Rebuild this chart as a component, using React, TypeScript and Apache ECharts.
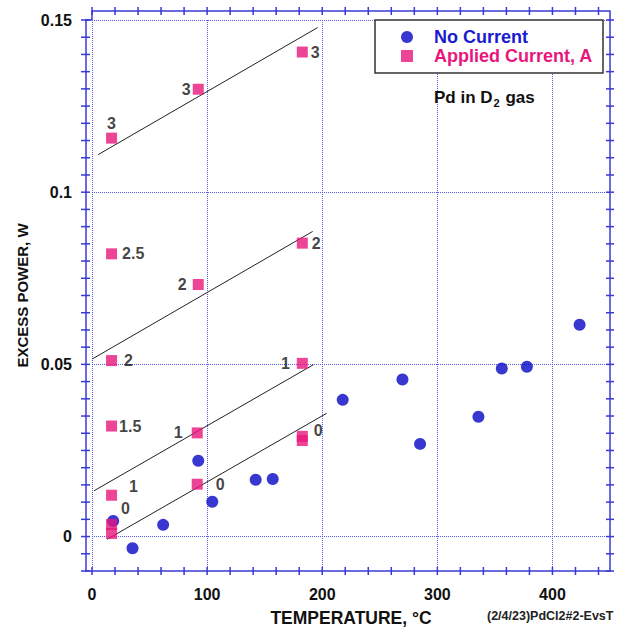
import React, { useEffect, useRef } from "react";
import * as echarts from "echarts";

// ---- data ----
const noCurrentTemp = [18.4, 35.2, 61.8, 92.3, 104.5, 142.2, 157, 217.8, 269.7, 285, 335.7, 356, 377.8, 423.6];
const noCurrentPower = [0.0045, -0.0034, 0.0034, 0.022, 0.0101, 0.0165, 0.0167, 0.0397, 0.0456, 0.0269, 0.0348, 0.0488, 0.0493, 0.0615];

const appliedTemp = [17, 92.3, 182.7, 17, 92.3, 182.7, 17, 17, 182.7, 91.4, 17, 91.4, 182.7, 182.7, 17, 17];
const appliedPower = [0.1157, 0.1299, 0.1407, 0.0821, 0.0732, 0.0852, 0.0511, 0.0321, 0.0503, 0.0301, 0.012, 0.0152, 0.0291, 0.0279, 0.0035, 0.0009];
const appliedCurrentLabels = ["3", "3", "3", "2.5", "2", "2", "2", "1.5", "1", "1", "1", "0", "0", "", "0", ""];

// fit lines: [startTemp, startPower, endTemp, endPower]
const fitLine3 = [5.3, 0.1109, 196, 0.1478];
const fitLine2 = [0.4, 0.0516, 191.7, 0.0886];
const fitLine1 = [1.8, 0.0133, 192.3, 0.0499];
const fitLine0 = [13.1, -0.0008, 203.9, 0.0358];
const fitLines = [fitLine3, fitLine2, fitLine1, fitLine0];

// axis ticks and labels
const xTickValues = [0, 20, 40, 60, 80, 100, 120, 140, 160, 180, 200, 220, 240, 260, 280, 300, 320, 340, 360, 380, 400, 420, 440];
const yTickValues = [
  -0.01, -0.005, 0, 0.005, 0.01, 0.015, 0.02, 0.025, 0.03, 0.035, 0.04, 0.045, 0.05, 0.055, 0.06, 0.065, 0.07,
  0.075, 0.08, 0.085, 0.09, 0.095, 0.1, 0.105, 0.11, 0.115, 0.12, 0.125, 0.13, 0.135, 0.14, 0.145, 0.15,
];
const xTickLabels = [0, 100, 200, 300, 400];
const yTickLabels = [0, 0.05, 0.1, 0.15];
const xGridValues = [0, 100, 200, 300, 400];
const yGridValues = [0, 0.05, 0.1, 0.15];
const X_MIN = 0;
const X_MAX = 450;
const Y_MIN = -0.01;
const Y_MAX = 0.15;

// ---- styling ----
const FONT = "'Liberation Sans', Arial, sans-serif";
const AXIS_BLUE = "#3a3ad4";
const GRID_BLUE = "#5858e6";
const DOT_BLUE = "#0606c4";
const PINK = "#e8167c";
const LEFT_OFFSET = 6;
const TOP_OFFSET = 9;

// label placement per applied-current point (styling only)
const labelPlacement: any[] = [
  { position: "top", distance: 1 },
  { position: "left", distance: 2 },
  { position: "right", distance: 3 },
  { position: "right", distance: 5 },
  { position: "left", distance: 6 },
  { position: "right", distance: 4 },
  { position: "right", distance: 7 },
  { position: "right", distance: 2 },
  { position: "left", distance: 7 },
  { position: "left", distance: 9 },
  { position: "right", distance: 12, offset: [0, -9] },
  { position: "right", distance: 13 },
  { position: "right", distance: 6, offset: [0, -6] },
  { position: "right", distance: 5 },
  { position: "right", distance: 4, offset: [0, -16] },
  { position: "right", distance: 5 },
];

const near = (a: number, b: number) => Math.abs(a - b) < 1e-7;

export default function App() {
  const ref = useRef<HTMLDivElement>(null);
  useEffect(() => {
    if (!ref.current) return;
    const chart = echarts.init(ref.current, null, { renderer: "svg" });
    const hiddenLabel = { show: false };
    const blueLine = { show: true, onZero: false, lineStyle: { color: AXIS_BLUE, width: 1.5 } };
    const tickStyle = { stroke: AXIS_BLUE, lineWidth: 1.5 };

    const option: any = {
      animation: false,
      backgroundColor: "#fff",
      textStyle: { fontFamily: FONT },
      grid: { left: 92, right: 9, top: 20, bottom: 57, containLabel: false, outerBoundsMode: "none" },
      title: [
        {
          text: "(2/4/23)PdCl2#2-EvsT",
          left: 487,
          top: 609,
          padding: 0,
          textAlign: "left",
          textVerticalAlign: "top",
          textStyle: { fontSize: 12.5, fontWeight: "bold", color: "#222", fontFamily: FONT },
        },
      ],
      legend: {
        orient: "vertical",
        left: 375,
        top: 20,
        padding: [8, 10, 8, 26],
        itemGap: 1,
        itemWidth: 12,
        itemHeight: 12,
        backgroundColor: "#fff",
        borderColor: "#333",
        borderWidth: 1.5,
        textStyle: { fontSize: 18, fontWeight: "bold", fontFamily: FONT, padding: [0, 0, 0, 16] },
        data: [
          { name: "No Current", icon: "circle", textStyle: { color: "#1a1ad0" } },
          { name: "Applied Current, A", icon: "rect", textStyle: { color: PINK } },
        ],
      },
      xAxis: [
        {
          type: "value",
          min: X_MIN,
          max: X_MAX,
          interval: 100,
          position: "bottom",
          axisLine: blueLine,
          axisTick: { show: false },
          axisLabel: {
            margin: 15,
            fontSize: 16,
            fontWeight: "bold",
            color: "#111",
            fontFamily: FONT,
            formatter: (v: number) => {
              const t = xTickLabels.find((x) => near(x, v));
              return t === undefined ? "" : String(t);
            },
          },
          splitLine: { show: false },
          name: "TEMPERATURE, °C",
          nameLocation: "middle",
          nameGap: 38,
          nameTextStyle: { fontSize: 17.5, fontWeight: "bold", color: "#111", fontFamily: FONT },
        },
        {
          type: "value",
          min: X_MIN,
          max: X_MAX,
          interval: 100,
          position: "top",
          offset: TOP_OFFSET,
          axisLine: blueLine,
          axisTick: { show: false },
          axisLabel: hiddenLabel,
          splitLine: { show: false },
        },
      ],
      yAxis: [
        {
          type: "value",
          min: Y_MIN,
          max: Y_MAX,
          interval: 0.005,
          position: "left",
          offset: LEFT_OFFSET,
          axisLine: blueLine,
          axisTick: { show: false },
          axisLabel: {
            margin: 14,
            fontSize: 16,
            fontWeight: "bold",
            color: "#111",
            fontFamily: FONT,
            formatter: (v: number) => {
              const t = yTickLabels.find((y) => near(y, v));
              return t === undefined ? "" : String(t);
            },
          },
          splitLine: { show: false },
          name: "EXCESS POWER, W",
          nameLocation: "middle",
          nameGap: 47,
          nameTextStyle: { fontSize: 15, fontWeight: "bold", color: "#111", fontFamily: FONT },
        },
        {
          type: "value",
          min: Y_MIN,
          max: Y_MAX,
          interval: 0.005,
          position: "right",
          axisLine: blueLine,
          axisTick: { show: false },
          axisLabel: hiddenLabel,
          splitLine: { show: false },
        },
      ],
      graphic: [
        { type: "line", shape: { x1: 85, y1: 20, x2: 92, y2: 20 }, style: { stroke: AXIS_BLUE, lineWidth: 1.5 } },
        { type: "line", shape: { x1: 92, y1: 11, x2: 92, y2: 20 }, style: { stroke: AXIS_BLUE, lineWidth: 1.5 } },
        { type: "line", shape: { x1: 85, y1: 571, x2: 92, y2: 571 }, style: { stroke: AXIS_BLUE, lineWidth: 1.5 } },
        { type: "line", shape: { x1: 610, y1: 11, x2: 610, y2: 20 }, style: { stroke: AXIS_BLUE, lineWidth: 1.5 } },
        {
          type: "text",
          x: 434,
          y: 86,
          z: 10,
          style: {
            text: "{a|Pd in D}{s|2}{a| gas}",
            fill: "#111",
            align: "left",
            verticalAlign: "top",
            rich: {
              a: { fontSize: 17, fontWeight: "bold", fill: "#111", fontFamily: FONT },
              s: { fontSize: 11, fontWeight: "bold", fill: "#111", fontFamily: FONT, padding: [11, 1, 0, 1] },
            },
          },
        },
      ],
      series: [
        {
          type: "line",
          xAxisIndex: 0,
          yAxisIndex: 0,
          symbol: "none",
          silent: true,
          z: 1,
          data: [],
          markLine: {
            silent: true,
            symbol: ["none", "none"],
            label: { show: false },
            lineStyle: { color: GRID_BLUE, type: "dotted", width: 1 },
            z: 1,
            data: [
              ...xGridValues.map((v) => ({ xAxis: v })),
              ...yGridValues.map((v) => ({ yAxis: v })),
            ],
          },
        },
        // crossing tick marks on bottom and top axes
        {
          type: "custom",
          xAxisIndex: 0,
          yAxisIndex: 0,
          silent: true,
          clip: false,
          z: 5,
          data: xTickValues.map((v) => [v, Y_MIN]),
          renderItem: (params: any, api: any) => {
            const bottom = api.coord([api.value(0), Y_MIN]);
            const top = api.coord([api.value(0), Y_MAX]);
            const x = bottom[0];
            const yt = top[1] - TOP_OFFSET;
            return {
              type: "group",
              children: [
                { type: "line", shape: { x1: x, y1: bottom[1] - 4, x2: x, y2: bottom[1] + 4 }, style: tickStyle },
                { type: "line", shape: { x1: x, y1: yt - 4, x2: x, y2: yt + 4 }, style: tickStyle },
              ],
            };
          },
        },
        // crossing tick marks on left and right axes
        {
          type: "custom",
          xAxisIndex: 0,
          yAxisIndex: 0,
          silent: true,
          clip: false,
          z: 5,
          data: yTickValues.map((v) => [X_MIN, v]),
          renderItem: (params: any, api: any) => {
            const left = api.coord([X_MIN, api.value(1)]);
            const right = api.coord([X_MAX, api.value(1)]);
            const y = left[1];
            const xl = left[0] - LEFT_OFFSET;
            return {
              type: "group",
              children: [
                { type: "line", shape: { x1: xl - 5, y1: y, x2: xl + 4, y2: y }, style: tickStyle },
                { type: "line", shape: { x1: right[0] - 4, y1: y, x2: right[0] + 4, y2: y }, style: tickStyle },
              ],
            };
          },
        },
        ...fitLines.map((l) => ({
          type: "line",
          xAxisIndex: 0,
          yAxisIndex: 0,
          symbol: "none",
          silent: true,
          z: 2,
          lineStyle: { color: "#222", width: 1 },
          data: [
            [l[0], l[1]],
            [l[2], l[3]],
          ],
        })),
        {
          name: "No Current",
          type: "scatter",
          xAxisIndex: 0,
          yAxisIndex: 0,
          symbol: "circle",
          symbolSize: 12,
          z: 3,
          itemStyle: { color: DOT_BLUE },
          data: noCurrentTemp.map((t, i) => [t, noCurrentPower[i]]),
        },
        {
          name: "Applied Current, A",
          type: "scatter",
          xAxisIndex: 0,
          yAxisIndex: 0,
          symbol: "rect",
          symbolSize: 11,
          z: 4,
          itemStyle: { color: PINK },
          label: { show: false, fontSize: 16, fontWeight: "bold", color: "#111", fontFamily: FONT },
          data: appliedTemp.map((t, i) => ({
            value: [t, appliedPower[i]],
            label: {
              show: appliedCurrentLabels[i] !== "",
              formatter: appliedCurrentLabels[i],
              fontSize: 16,
              fontWeight: "bold",
              color: "#111",
              fontFamily: FONT,
              ...labelPlacement[i],
            },
          })),
        },
      ],
    };
    chart.setOption(option);
    return () => chart.dispose();
  }, []);
  return (
    <div
      ref={ref}
      style={{ position: "fixed", left: 0, top: 0, width: 619, height: 628, background: "#fff" }}
    />
  );
}
